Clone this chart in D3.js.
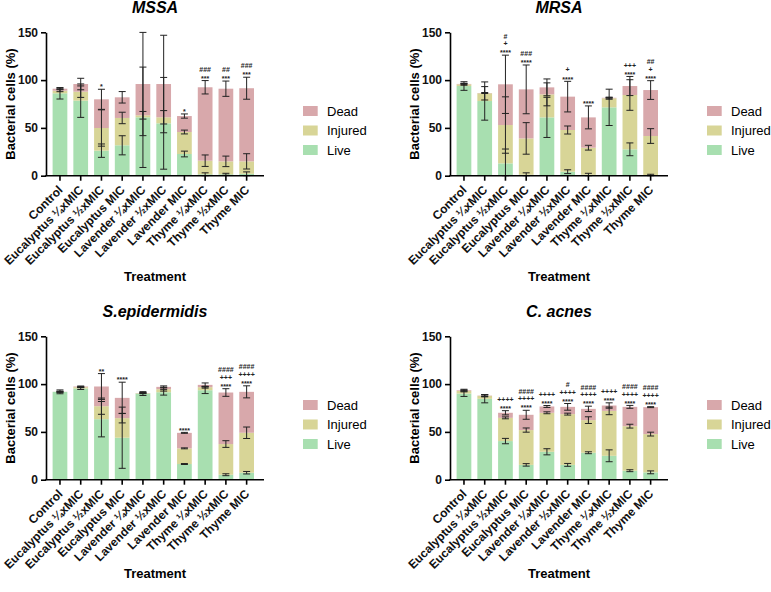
<!DOCTYPE html>
<html>
<head>
<meta charset="utf-8">
<script src="https://cdn.jsdelivr.net/npm/d3@7"></script>
<style>
  body { margin: 0; background: #fff; }
  svg { display: block; font-family: Arial, "Liberation Sans", sans-serif; }
</style>
</head>
<body>
<div id="chart"></div>
<script>
const treatments = ["Control", "Eucalyptus ¼xMIC", "Eucalyptus ½xMIC", "Eucalyptus MIC",
  "Lavender ¼xMIC", "Lavender ½xMIC", "Lavender MIC", "Thyme ¼xMIC", "Thyme ½xMIC", "Thyme MIC"];
const states = ["Live", "Injured", "Dead"];
const yTicks = [0, 50, 100, 150];

// MSSA (segment heights, % of cells) and SD
const mssaLive    = [86.2, 78.5, 26.2, 31.8, 61.1, 54.8, 22.7, 1.5, 1.5, 2];
const mssaInjured = [2.7, 9.4, 23.7, 28.6, 2.1, 6.3, 23.0, 14.2, 13.5, 13];
const mssaDead    = [2.1, 8.0, 30.0, 21.6, 32.7, 34.8, 16.7, 76.8, 76, 76.5];
const mssaLiveSd    = [6, 17.5, 7, 10, 52.5, 48, 3, 1.5, 1, 2];
const mssaInjuredSd = [1, 6, 19, 6, 4, 7, 2, 6, 5.5, 8];
const mssaDeadSd    = [0.5, 6, 10.5, 6, 54, 51, 2.2, 7, 8, 11.5];
const mssaMarks = [[], [], ["*"], [], [], [], ["*"], ["###", "***"], ["##", "***"], ["###", "***"]];

// MRSA
const mrsaLive    = [93.8, 78.1, 12.9, 1, 61, 4.2, 1, 71.5, 27.6, 0.5];
const mrsaInjured = [1.8, 8.1, 40.1, 38, 24.1, 43.6, 28.3, 9.5, 56.8, 41];
const mrsaDead    = [0.4, 0.3, 42.6, 51.3, 7.3, 34.9, 31.7, 0.5, 9.4, 48.1];
const mrsaLiveSd    = [4.5, 20, 15, 2, 21, 2, 1.5, 19, 6.7, 1];
const mrsaInjuredSd = [1, 7, 29.5, 16.5, 12, 4.2, 2.5, 1, 16, 7.7];
const mrsaDeadSd    = [0.5, 0.5, 30.5, 25.5, 8.8, 16, 12, 0.5, 10, 9.8];
const mrsaMarks = [[], [], ["#", "+", "****"], ["###", "****"], [], ["+", "****"], ["****"], [], ["+++", "****"], ["##", "+", "****"]];

// S. epidermidis
const sepiLive    = [91.9, 95.4, 63.3, 43.9, 90.1, 91.5, 16.4, 93.6, 5.2, 7.3];
const sepiInjured = [0, 1.4, 13.6, 20.5, 0.4, 3.2, 16.4, 3.2, 32.1, 41.8];
const sepiDead    = [0.1, 0.7, 20.6, 21.2, 0.2, 2.4, 16.2, 2.4, 53.9, 42.8];
const sepiLiveSd    = [2, 1, 18.5, 32, 2, 3, 0.5, 3.5, 1, 1.3];
const sepiInjuredSd = [0.5, 0.5, 8.5, 5, 0.5, 2, 0.5, 1, 3.5, 6];
const sepiDeadSd    = [0.5, 0.5, 13.5, 16.4, 0.5, 1, 0.5, 2, 4, 6.3];
const sepiMarks = [[], [], ["**"], ["****"], [], [], ["****"], [], ["####", "+++", "****"], ["####", "++++", "****"]];

// C. acnes
const acnesLive    = [90.1, 84.6, 40.4, 15.5, 29.2, 15.5, 28.2, 25, 9.4, 7.7];
const acnesInjured = [2.8, 3.1, 24.3, 36.4, 40.8, 53.1, 34.1, 47, 46.6, 40];
const acnesDead    = [0.7, 0.3, 5.3, 16, 6.6, 7.6, 11.8, 5.6, 20.2, 28.2];
const acnesLiveSd    = [3, 4.2, 2.8, 1.3, 3.2, 1.5, 1, 6.2, 1, 1.5];
const acnesInjuredSd = [1, 1, 1, 2.2, 1, 1, 3.5, 4, 2, 2];
const acnesDeadSd    = [1, 1, 2.2, 4.7, 1, 3.5, 2.8, 2.8, 1.5, 0.5];
const acnesMarks = [[], [], ["++++", "****"], ["####", "++++", "****"], ["++++", "****"], ["#", "++++", "****"],
  ["####", "++++", "****"], ["++++", "****"], ["####", "++++", "****"], ["####", "++++", "****"]];

const color = d3.scaleOrdinal(states, ["#a8dfb0", "#d8d597", "#d8a8ab"]);

const svg = d3.select("#chart").append("svg")
    .attr("width", 771)
    .attr("height", 592);

// lower panels sit a bit tighter: their legend and x title are pulled up
function drawPanel(title, live, injured, dead, sds, marks, ox, oy, titleY, legendY) {
  const g = svg.append("g").attr("transform", `translate(${ox},${oy})`);

  const x = d3.scaleBand()
      .domain(treatments)
      .range([49.6, 257])
      .paddingInner(0.29)
      .paddingOuter(0.145);
  const y = d3.scaleLinear().domain([0, 150]).range([175.7, 32.3]);

  const rows = treatments.map((t, i) => ({t, Live: live[i], Injured: injured[i], Dead: dead[i]}));
  const series = d3.stack().keys(states)(rows);

  // bars
  g.append("g")
    .selectAll("g")
    .data(series)
    .join("g")
      .attr("fill", d => color(d.key))
    .selectAll("rect")
    .data(d => d)
    .join("rect")
      .attr("x", d => x(d.data.t))
      .attr("y", d => y(d[1]))
      .attr("width", x.bandwidth())
      .attr("height", d => y(d[0]) - y(d[1]));

  // error bars at the top of each segment
  const errs = series.flatMap((s, k) => s.map((d, i) => ({
    cx: x(d.data.t) + x.bandwidth() / 2,
    lo: Math.max(0, d[1] - sds[k][i]),
    hi: d[1] + sds[k][i]
  })));
  const eg = g.append("g").attr("stroke", "#222").attr("stroke-width", 1).attr("fill", "none");
  eg.selectAll("path")
    .data(errs)
    .join("path")
      .attr("d", d => {
        const a = y(d.lo), b = y(d.hi);
        return `M${d.cx},${a}V${b}M${d.cx - 3.5},${a}h7M${d.cx - 3.5},${b}h7`;
      });

  // significance marks above the highest error bar
  const ag = g.append("g").style("font-size", "7px").style("font-weight", "bold").attr("fill", "#222")
      .attr("text-anchor", "middle");
  marks.forEach((lines, i) => {
    if (!lines.length) return;
    const top = d3.max(errs.filter((e, j) => j % treatments.length === i), e => e.hi);
    const cx = x(treatments[i]) + x.bandwidth() / 2;
    lines.slice().reverse().forEach((s, j) => {
      const center = y(top) - 4 - j * 7.5;
      const base = center + (s[0] === "*" ? 4.2 : 2.6);
      ag.append("text").attr("x", cx).attr("y", base).text(s);
    });
  });

  // y axis
  const ya = g.append("g")
      .attr("transform", "translate(46,0)")
      .call(d3.axisLeft(y).tickValues(yTicks).tickSize(5).tickSizeOuter(0).tickPadding(3));
  ya.select(".domain").attr("stroke-width", 1.6);
  ya.selectAll(".tick line").attr("stroke-width", 1.6);
  ya.selectAll("text").style("font-size", "12px").style("font-weight", "bold").attr("fill", "#111");

  // x axis
  const xa = g.append("g")
      .attr("transform", `translate(0,${y(0)})`)
      .call(d3.axisBottom(x).tickSize(5).tickSizeOuter(0));
  xa.select(".domain").remove();
  xa.append("line").attr("x1", 45.2).attr("x2", 264).attr("stroke", "#000").attr("stroke-width", 1.6);
  xa.selectAll(".tick line").attr("stroke-width", 1.6);
  xa.selectAll("text")
      .attr("x", -8.1)
      .attr("y", 8.8)
      .attr("dy", "0.35em")
      .attr("transform", "rotate(-45)")
      .attr("text-anchor", "end")
      .style("font-size", "12px")
      .style("font-weight", "bold")
      .attr("fill", "#111");

  // titles
  g.append("text")
      .attr("x", 155).attr("y", 12.7)
      .attr("text-anchor", "middle")
      .style("font-size", "16px").style("font-weight", "bold").style("font-style", "italic")
      .text(title);
  g.append("text")
      .attr("transform", "translate(15,104) rotate(-90)")
      .attr("text-anchor", "middle")
      .style("font-size", "13px").style("font-weight", "bold")
      .text("Bacterial cells (%)");
  g.append("text")
      .attr("x", 155).attr("y", titleY)
      .attr("text-anchor", "middle")
      .style("font-size", "13px").style("font-weight", "bold")
      .text("Treatment");

  // legend
  const lg = g.append("g").attr("transform", `translate(303,${legendY})`);
  const item = lg.selectAll("g")
    .data(states.slice().reverse())
    .join("g")
      .attr("transform", (d, i) => `translate(0,${i * 19.5})`);
  item.append("rect").attr("y", -5).attr("width", 14.7).attr("height", 10).attr("fill", d => color(d));
  item.append("text").attr("x", 24).attr("dy", "0.35em").style("font-size", "13px").text(d => d);
}

drawPanel("MSSA", mssaLive, mssaInjured, mssaDead,
  [mssaLiveSd, mssaInjuredSd, mssaDeadSd], mssaMarks, 0, 0, 281, 111);
drawPanel("MRSA", mrsaLive, mrsaInjured, mrsaDead,
  [mrsaLiveSd, mrsaInjuredSd, mrsaDeadSd], mrsaMarks, 404, 0, 281, 111);
drawPanel("S.epidermidis", sepiLive, sepiInjured, sepiDead,
  [sepiLiveSd, sepiInjuredSd, sepiDeadSd], sepiMarks, 0, 304, 274, 101);
drawPanel("C. acnes", acnesLive, acnesInjured, acnesDead,
  [acnesLiveSd, acnesInjuredSd, acnesDeadSd], acnesMarks, 404, 304, 274, 101);
</script>
</body>
</html>
